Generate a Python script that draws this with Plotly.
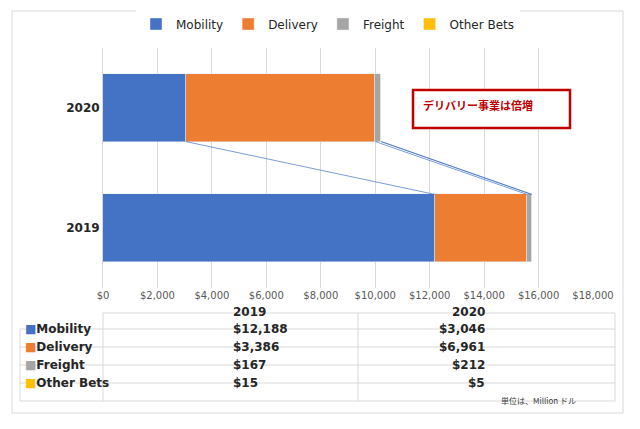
import plotly.graph_objects as go
import numpy as np

years = ["2019", "2020"]
series = ["Mobility", "Delivery", "Freight", "Other Bets"]
colors = ["#4472C4", "#ED7D31", "#A5A5A5", "#FFC000"]
mobility = [12188, 3046]
delivery = [3386, 6961]
freight = [167, 212]
other_bets = [15, 5]
values = [mobility, delivery, freight, other_bets]

W, H = 640, 429
L, R, T, B = 95, 585, 40, 280
def px(x): return (x - L) / (R - L)
def py(y): return (B - y) / (B - T)

fig = go.Figure()
for name, vals, c in zip(series, values, colors):
    fig.add_trace(go.Bar(y=[0, 1], x=vals, name=name, orientation="h",
                         marker=dict(color=c), width=0.56))

# series lines between bars
cum = np.cumsum(np.array(values), axis=0)
for row in cum:
    fig.add_trace(go.Scatter(x=[row[1], row[0]], y=[1 - 0.28, 0 + 0.28], mode="lines",
                             line=dict(color="#4472C4", width=0.7), showlegend=False,
                             hoverinfo="skip"))

shapes = [dict(type="rect", xref="paper", yref="paper", x0=px(4), x1=px(615), y0=py(405), y1=py(3),
               line=dict(color="#D9D9D9", width=1))]
# annotation box
shapes.append(dict(type="rect", xref="paper", yref="paper", x0=px(405), x1=px(562), y0=py(120), y1=py(82),
                   line=dict(color="#C00000", width=2.5), fillcolor="white"))
# table grid
cols = [12, 95, 350, 607]
rows = [305, 321, 339, 357, 375, 393]
for y in rows:
    x0 = 95 if y == 305 else 12
    shapes.append(dict(type="line", xref="paper", yref="paper", x0=px(x0), x1=px(607), y0=py(y), y1=py(y),
                       line=dict(color="#D9D9D9", width=1)))
for x in cols:
    y0 = 321 if x == 12 else 305
    shapes.append(dict(type="line", xref="paper", yref="paper", x0=px(x), x1=px(x), y0=py(y0), y1=py(393),
                       line=dict(color="#D9D9D9", width=1)))

ann = [dict(x=px(413), y=py(97), xref="paper", yref="paper", text="<b>デリバリー事業は倍増</b>",
            showarrow=False, xanchor="left", yanchor="middle", font=dict(color="#C00000", size=11,
                                                      family="Noto Sans CJK JP"))]
for j, yr in enumerate(years):
    cx = (cols[j + 1] + cols[j + 2]) / 2
    ann.append(dict(x=px(cx), y=py(313), xref="paper", yref="paper", text="<b>%s</b>" % yr,
                    showarrow=False, font=dict(size=12, color="#262626")))
for i, (name, vals, c) in enumerate(zip(series, values, colors)):
    cy = (rows[i + 1] + rows[i + 2]) / 2
    ann.append(dict(x=px(15), y=py(cy), xref="paper", yref="paper",
                    text="<span style='color:%s'>■</span><b>%s</b>" % (c, name),
                    showarrow=False, xanchor="left", font=dict(size=12, color="#262626")))
    for j in range(2):
        cx = (cols[j + 1] + cols[j + 2]) / 2
        ann.append(dict(x=px(cx), y=py(cy), xref="paper", yref="paper", text="<b>$%s</b>" % format(vals[j], ","),
                        showarrow=False, font=dict(size=12, color="#262626")))
ann.append(dict(x=px(570), y=py(400), xref="paper", yref="paper", text="単位は、Million ドル",
                showarrow=False, xanchor="right", font=dict(size=8, color="#404040", family="Noto Sans CJK JP")))

fig.update_layout(
    barmode="stack", width=W, height=H, paper_bgcolor="white", plot_bgcolor="white",
    margin=dict(l=L, r=W - R, t=T, b=H - B, autoexpand=False),
    font=dict(family="DejaVu Sans", color="#404040"),
    legend=dict(orientation="h", xref="container", yref="container", x=0.5, xanchor="center",
                y=1 - 16 / H, yanchor="middle", itemwidth=30,
                font=dict(size=12, color="#262626"), traceorder="normal"),
    xaxis=dict(range=[0, 18000], dtick=2000, tickprefix="$", tickformat=",", showgrid=True,
               gridcolor="#D9D9D9", zeroline=False, tickfont=dict(size=10, color="#595959"),
               automargin=False),
    yaxis=dict(range=[-0.5, 1.5], tickvals=[0, 1], ticktext=["<b>2019</b>", "<b>2020</b>"],
               showgrid=False, zeroline=False, showline=True, linecolor="#D9D9D9", automargin=False,
               tickfont=dict(size=12, color="#262626")),
    shapes=shapes, annotations=ann, bargap=0,
)
fig.write_html("out.html")
